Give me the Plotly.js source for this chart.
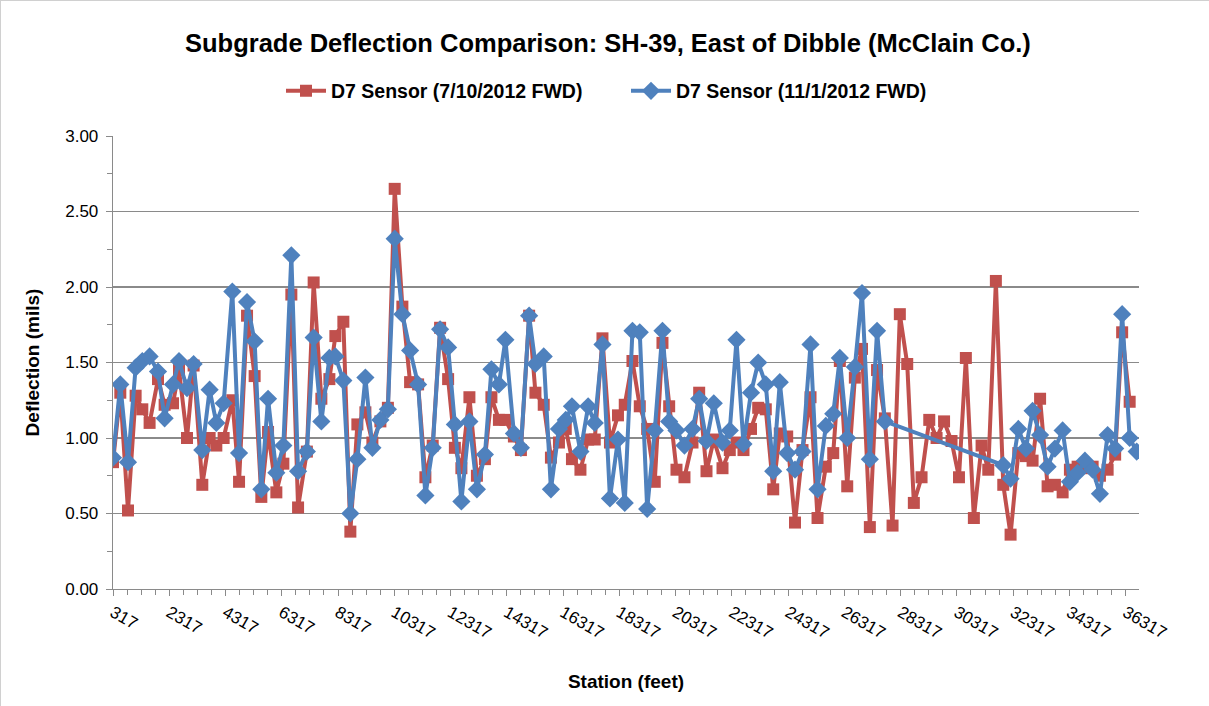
<!DOCTYPE html>
<html>
<head>
<meta charset="utf-8">
<script src="https://cdn.plot.ly/plotly-3.0.1.min.js"></script>
<style>
  html, body { margin: 0; padding: 0; background: #ffffff; }
  #chart { width: 1209px; height: 706px; box-sizing: border-box; border: 1px solid #d0d0d0; }
</style>
</head>
<body>
<div id="chart"></div>
<script>
// Station (feet) of each FWD test point
var stations = [317,577,850,1121,1359,1618,1917,2152,2451,2664,
  2948,3183,3492,3752,3990,4250,4559,4798,5082,5352,
  5590,5829,6124,6373,6657,6896,7209,7450,7724,8009,
  8222,8506,8755,9004,9289,9538,9822,10089,10331,10604,
  10878,11163,11422,11682,11945,12230,12470,12702,12987,13254,
  13538,13769,14036,14267,14569,14818,15110,15334,15629,15885,
  16170,16412,16632,16934,17208,17443,17717,17983,18268,18509,
  18783,19043,19306,19576,19850,20088,20348,20632,20917,21155,
  21415,21674,21984,22243,22481,22730,22997,23253,23523,23787,
  24021,24284,24562,24828,25113,25362,25657,25920,26155,26418,
  26689,26944,27222,27478,27755,28029,28288,28551,28786,29060,
  29334,29594,29860,30126,30390,30635,30920,31194,31432,31702,
  31965,32225,32499,32769,33007,33274,33541,33801,34075,34334,
  34608,34868,35142,35401,35675,35942,36191,36458,36707];

// D7 Sensor deflection (mils), 7/10/2012 FWD
var d7July = [0.84,1.30,0.52,1.28,1.19,1.10,1.39,1.22,1.23,1.45,
  1.00,1.48,0.69,1.00,0.95,1.00,1.25,0.71,1.81,1.41,
  0.61,1.04,0.64,0.83,1.95,0.54,0.91,2.03,1.26,1.39,
  1.675,1.77,0.38,1.09,1.17,0.97,1.11,1.20,2.65,1.87,
  1.37,1.355,0.74,0.95,1.73,1.39,0.935,0.80,1.27,0.75,
  0.86,1.27,1.12,1.12,1.01,0.92,1.81,1.30,1.22,0.87,
  0.97,1.06,0.86,0.79,0.99,0.99,1.66,0.97,1.15,1.22,
  1.51,1.21,1.06,0.71,1.63,1.21,0.79,0.74,0.97,1.30,
  0.78,0.99,0.80,0.92,0.97,0.92,1.06,1.20,1.19,0.66,
  1.03,1.01,0.44,0.92,1.27,0.47,0.81,0.90,1.51,0.68,
  1.40,1.59,0.41,1.45,1.13,0.42,1.82,1.49,0.57,0.74,
  1.12,1.00,1.11,0.98,0.74,1.53,0.47,0.95,0.79,2.04,
  0.69,0.36,0.90,0.88,0.85,1.26,0.68,0.69,0.64,0.79,
  0.81,0.80,0.81,0.75,0.79,0.89,1.70,1.24,null];

// D7 Sensor deflection (mils), 11/1/2012 FWD
var d7Nov = [0.87,1.355,0.84,1.466,1.51,1.54,1.44,1.13,1.355,1.51,
  1.33,1.49,0.92,1.32,1.10,1.23,1.97,0.90,1.90,1.64,
  0.66,1.26,0.77,0.95,2.21,0.78,0.91,1.665,1.11,1.53,
  1.54,1.38,0.50,0.86,1.40,0.935,1.12,1.19,2.32,1.82,
  1.58,1.355,0.62,0.935,1.72,1.60,1.09,0.58,1.11,0.66,
  0.89,1.455,1.355,1.65,1.03,0.935,1.81,1.49,1.54,0.66,
  1.06,1.12,1.21,0.91,1.21,1.10,1.62,0.60,0.99,0.57,
  1.71,1.70,0.53,1.05,1.71,1.11,1.05,0.95,1.06,1.26,
  0.98,1.23,0.97,1.05,1.65,0.96,1.30,1.50,1.355,0.78,
  1.37,0.90,0.79,0.91,1.62,0.66,1.08,1.16,1.53,1.00,
  1.47,1.96,0.86,1.71,1.11,null,null,null,null,null,
  null,null,null,null,null,null,null,null,null,null,
  0.82,0.73,1.06,0.93,1.18,1.02,0.81,0.93,1.05,0.71,
  0.77,0.85,0.79,0.63,1.02,0.93,1.82,1.00,0.91];

// Axis tick labels
var xTickVals = [317,2317,4317,6317,8317,10317,12317,14317,16317,18317,
  20317,22317,24317,26317,28317,30317,32317,34317,36317];
var xTickText = xTickVals.map(String);

var seriesNames = ['D7 Sensor (7/10/2012 FWD)', 'D7 Sensor (11/1/2012 FWD)'];

var FONT = 'Liberation Sans, Arial, Helvetica, sans-serif';
var GRID = '#8a8a8a';

var traces = [
  {
    x: stations, y: d7July, name: seriesNames[0],
    type: 'scatter', mode: 'lines+markers',
    line: {color: '#C0504D', width: 4},
    marker: {symbol: 'square', size: 12, color: '#C0504D'},
    connectgaps: true
  },
  {
    x: stations, y: d7Nov, name: seriesNames[1],
    type: 'scatter', mode: 'lines+markers',
    line: {color: '#4F81BD', width: 4},
    marker: {symbol: 'diamond', size: 14, color: '#4F81BD'},
    connectgaps: true
  }
];

var layout = {
  width: 1209, height: 706,
  paper_bgcolor: '#ffffff', plot_bgcolor: '#ffffff',
  font: {family: FONT, color: '#000000', size: 17},
  margin: {l: 112, r: 71, t: 135, b: 118, pad: 0},
  title: {
    text: 'Subgrade Deflection Comparison: SH-39, East of Dibble (McClain Co.)',
    font: {family: FONT, size: 25.5, weight: 'bold', color: '#000000'},
    x: 0.502, xanchor: 'center', xref: 'container',
    y: 1 - 42/706, yanchor: 'middle', yref: 'container'
  },
  showlegend: true,
  legend: {
    orientation: 'h', x: (280 - 112) / 1026, xanchor: 'left',
    y: 1.099, yanchor: 'middle',
    font: {family: FONT, size: 19.5, weight: 'bold', color: '#000000'},
    bgcolor: 'rgba(0,0,0,0)', itemwidth: 40, traceorder: 'normal',
    entrywidth: 290, entrywidthmode: 'pixels'
  },
  xaxis: {
    range: [317, 36790],
    tickmode: 'array', tickvals: xTickVals, ticktext: xTickText,
    tickangle: 30,
    tickfont: {family: FONT, size: 17, color: '#000000'},
    ticks: 'outside', ticklen: 6, tickwidth: 1, tickcolor: GRID,
    minor: {tickmode: 'linear', tick0: 317, dtick: 500, ticks: 'outside', ticklen: 5, tickcolor: GRID, showgrid: false},
    showline: true, linecolor: GRID, linewidth: 1.3,
    showgrid: false, zeroline: false,
    title: {text: 'Station (feet)', font: {family: FONT, size: 19, weight: 'bold', color: '#000000'}, standoff: 33}
  },
  yaxis: {
    range: [0, 3], tickmode: 'linear', tick0: 0, dtick: 0.5, tickformat: '.2f',
    tickfont: {family: FONT, size: 17, color: '#000000'},
    ticks: 'outside', ticklen: 6, tickwidth: 1, tickcolor: GRID,
    ticklabelstandoff: 4,
    minor: {dtick: 0.25, ticks: 'outside', ticklen: 5, tickcolor: GRID, showgrid: false},
    showline: true, linecolor: GRID, linewidth: 1.3,
    showgrid: true, gridcolor: GRID, gridwidth: 1.3, zeroline: false,
    title: {text: 'Deflection (mils)', font: {family: FONT, size: 19, weight: 'bold', color: '#000000'}, standoff: 20}
  }
};

Plotly.newPlot('chart', traces, layout, {displayModeBar: false, staticPlot: true});
</script>
</body>
</html>
